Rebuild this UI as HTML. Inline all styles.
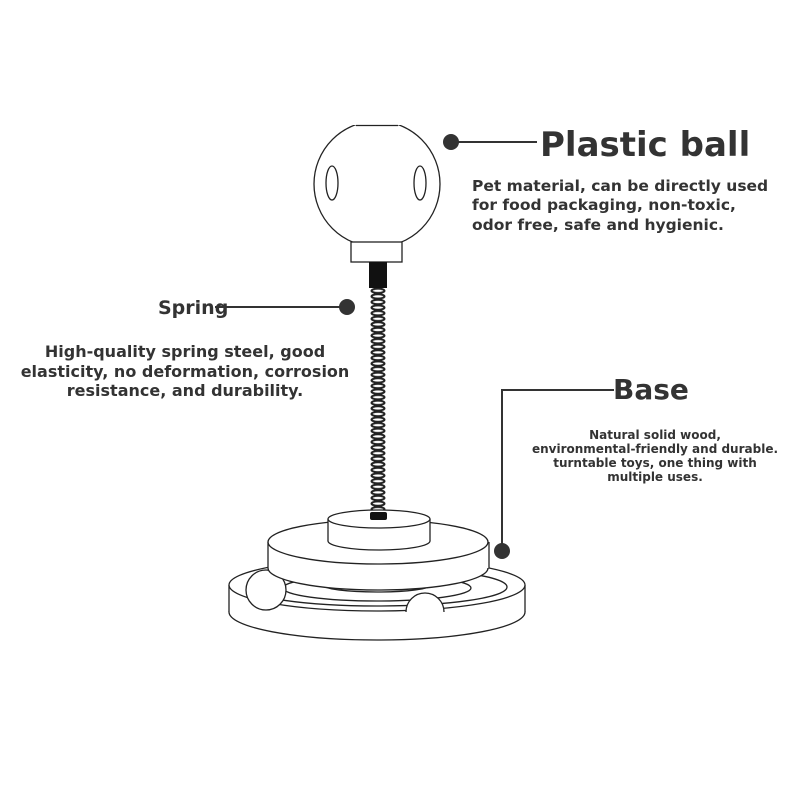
<!DOCTYPE html>
<html><head><meta charset="utf-8"><style>
html,body{margin:0;padding:0;background:#fff;}
svg{display:block;}
text{font-family:"DejaVu Sans","Liberation Sans",sans-serif;font-weight:bold;fill:#333;}
</style></head><body>
<svg width="790" height="796" viewBox="0 0 790 796" xmlns="http://www.w3.org/2000/svg">
<defs>
<pattern id="coil" x="369" y="288" width="20" height="5.6" patternUnits="userSpaceOnUse">
<ellipse cx="9" cy="2.8" rx="6.5" ry="2.2" fill="none" stroke="#222" stroke-width="2"/>
</pattern>
<clipPath id="cl"><rect x="300" y="125" width="160" height="200"/></clipPath>
</defs>
<g fill="#fff" stroke="#222" stroke-width="1.3">
<circle cx="377" cy="184" r="63" clip-path="url(#cl)"/>
<line x1="356" y1="125.5" x2="398" y2="125.5"/>
<ellipse cx="332" cy="183" rx="6" ry="17"/>
<ellipse cx="420" cy="183" rx="6" ry="17"/>
<rect x="351" y="242" width="51" height="20"/>
</g>
<rect x="369" y="262" width="18" height="26" fill="#111"/>
<rect x="369" y="288" width="20" height="226" fill="url(#coil)"/>
<g fill="#fff" stroke="#222" stroke-width="1.3">
<ellipse cx="377" cy="612" rx="148" ry="28"/>
<rect x="229" y="585" width="296" height="27" stroke="none"/>
<line x1="229" y1="585" x2="229" y2="612"/><line x1="525" y1="585" x2="525" y2="612"/>
<ellipse cx="377" cy="585" rx="148" ry="26"/>
<ellipse cx="377" cy="587" rx="130" ry="19"/>
<ellipse cx="377" cy="588" rx="94" ry="13"/>
<ellipse cx="377" cy="585" rx="54" ry="7"/>
<circle cx="266" cy="590" r="20"/>
<path d="M406 612 A19 19 0 0 1 444 612" />
<ellipse cx="378" cy="568" rx="110" ry="22"/>
<rect x="268" y="542" width="221" height="26" stroke="none"/>
<line x1="268" y1="542" x2="268" y2="568"/><line x1="489" y1="542" x2="489" y2="568"/>
<ellipse cx="378" cy="542" rx="110" ry="22"/>
<ellipse cx="379" cy="541" rx="51" ry="9"/>
<rect x="328" y="519" width="102" height="22" stroke="none"/>
<line x1="328" y1="519" x2="328" y2="541"/><line x1="430" y1="519" x2="430" y2="541"/>
<ellipse cx="379" cy="519" rx="51" ry="9"/>
</g>
<rect x="370" y="512" width="17" height="8" rx="2" fill="#111"/>
<g stroke="#333" stroke-width="2" fill="none">
<line x1="451" y1="142" x2="537" y2="142"/>
<line x1="215" y1="307" x2="345" y2="307"/>
<polyline points="614,390 502,390 502,550"/>
</g>
<g fill="#333">
<circle cx="451" cy="142" r="8"/>
<circle cx="347" cy="307" r="8"/>
<circle cx="502" cy="551" r="8"/>
</g>
<text x="540" y="156" font-size="34">Plastic ball</text>
<g font-size="15.5">
<text x="472" y="191">Pet material, can be directly used</text>
<text x="472" y="210">for food packaging, non-toxic,</text>
<text x="472" y="230">odor free, safe and hygienic.</text>
</g>
<text x="158" y="314" font-size="19">Spring</text>
<g text-anchor="middle" font-size="16">
<text x="185" y="357">High-quality spring steel, good</text>
<text x="185" y="377">elasticity, no deformation, corrosion</text>
<text x="185" y="396">resistance, and durability.</text>
</g>
<text x="613" y="399" font-size="28">Base</text>
<g text-anchor="middle" font-size="12">
<text x="655" y="439">Natural solid wood,</text>
<text x="655" y="453">environmental-friendly and durable.</text>
<text x="655" y="467">turntable toys, one thing with</text>
<text x="655" y="481">multiple uses.</text>
</g>
</svg>
</body></html>
